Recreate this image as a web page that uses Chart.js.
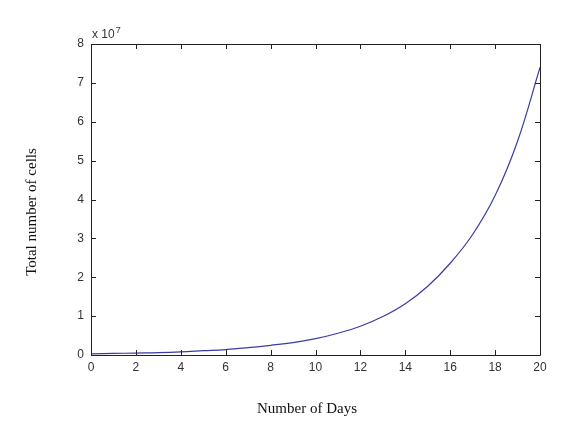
<!DOCTYPE html>
<html>
<head>
<meta charset="utf-8">
<script src="https://cdn.jsdelivr.net/npm/chart.js@4/dist/chart.umd.min.js"></script>
<style>
  html, body { margin: 0; padding: 0; background: #fff; }
  #wrap { width: 563px; height: 426px; }
</style>
</head>
<body>
<div id="wrap"><canvas id="cellChart" width="563" height="426"></canvas></div>
<script>
/* ===============================
   Data
================================ */
const days = [0, 1, 2, 3, 4, 5, 6, 7, 8, 9, 10, 11, 12, 13, 14, 15, 16, 17, 18, 19, 20];
const totalCells = [
  300000, 400000, 500000, 600000, 800000, 1100000, 1400000, 1900000, 2500000, 3200000,
  4200000, 5600000, 7400000, 9900000, 13200000, 17700000, 23600000, 31000000, 41000000, 55000000, 74000000
];
const xTicks = [0, 2, 4, 6, 8, 10, 12, 14, 16, 18, 20];
const yTicks = [0, 1, 2, 3, 4, 5, 6, 7, 8]; // x 10^7
const yScale = 1e7;

const xTitle = "Number of Days";
const yTitle = "Total number of cells";

/* ===============================
   MATLAB-style box, inward ticks, labels
================================ */
const matlabFrame = {
  id: "matlabFrame",
  afterDraw(chart) {
    const ctx = chart.ctx;
    const area = chart.chartArea;
    const xs = chart.scales.x;
    const ys = chart.scales.y;
    const len = 5;

    ctx.save();
    ctx.strokeStyle = "#222";
    ctx.lineWidth = 1;
    ctx.beginPath();
    ctx.rect(Math.round(area.left) + 0.5, Math.round(area.top) + 0.5,
      Math.round(area.right - area.left), Math.round(area.bottom - area.top));
    ctx.stroke();

    ctx.beginPath();
    xTicks.forEach((v) => {
      const px = Math.round(xs.getPixelForValue(v)) + 0.5;
      ctx.moveTo(px, area.bottom);
      ctx.lineTo(px, area.bottom - len);
      ctx.moveTo(px, area.top);
      ctx.lineTo(px, area.top + len);
    });
    yTicks.forEach((v) => {
      const py = Math.round(ys.getPixelForValue(v * yScale)) + 0.5;
      ctx.moveTo(area.left, py);
      ctx.lineTo(area.left + len, py);
      ctx.moveTo(area.right, py);
      ctx.lineTo(area.right - len, py);
    });
    ctx.stroke();

    // exponent label
    ctx.fillStyle = "#333";
    ctx.textBaseline = "alphabetic";
    ctx.textAlign = "left";
    ctx.font = "12px 'Liberation Sans', Arial, sans-serif";
    ctx.fillText("x 10", area.left + 1, area.top - 6);
    const w = ctx.measureText("x 10").width;
    ctx.font = "9px 'Liberation Sans', Arial, sans-serif";
    ctx.fillText("7", area.left + 2 + w, area.top - 11);

    // axis titles
    ctx.fillStyle = "#111";
    ctx.font = "15px 'Liberation Serif', 'Times New Roman', serif";
    ctx.textAlign = "center";
    ctx.textBaseline = "middle";
    ctx.fillText(xTitle, 307, 409);
    ctx.save();
    ctx.translate(32, 212);
    ctx.rotate(-Math.PI / 2);
    ctx.fillText(yTitle, 0, 0);
    ctx.restore();
    ctx.restore();
  },
};

/* ===============================
   Chart
================================ */
function renderCellChart() {
  const ctx = document.getElementById("cellChart");
  if (!ctx) return;

  new Chart(ctx, {
    type: "line",
    data: {
      datasets: [
        {
          data: days.map((d, i) => ({ x: d, y: totalCells[i] })),
          borderColor: "#3b3ba6",
          borderWidth: 1.2,
          pointRadius: 0,
          fill: false,
          tension: 0.4,
        },
      ],
    },
    options: {
      responsive: false,
      animation: false,
      layout: { padding: { top: 44, right: 23, left: 0, bottom: 0 } },
      plugins: {
        legend: { display: false },
        tooltip: { enabled: false },
      },
      scales: {
        x: {
          type: "linear",
          min: 0,
          max: 20,
          afterFit: (s) => { s.height = 71; },
          afterBuildTicks: (s) => { s.ticks = xTicks.map((v) => ({ value: v })); },
          grid: { display: false, drawTicks: false },
          border: { display: false },
          ticks: {
            padding: 5,
            color: "#333",
            font: { family: "'Liberation Sans', Arial, sans-serif", size: 12 },
            maxRotation: 0,
          },
        },
        y: {
          type: "linear",
          min: 0,
          max: 8 * yScale,
          afterFit: (s) => { s.width = 91; },
          afterBuildTicks: (s) => { s.ticks = yTicks.map((v) => ({ value: v * yScale })); },
          grid: { display: false, drawTicks: false },
          border: { display: false },
          ticks: {
            padding: 7,
            color: "#333",
            font: { family: "'Liberation Sans', Arial, sans-serif", size: 12 },
            callback: (v) => String(v / yScale),
          },
        },
      },
    },
    plugins: [matlabFrame],
  });
}

renderCellChart();
</script>
</body>
</html>
